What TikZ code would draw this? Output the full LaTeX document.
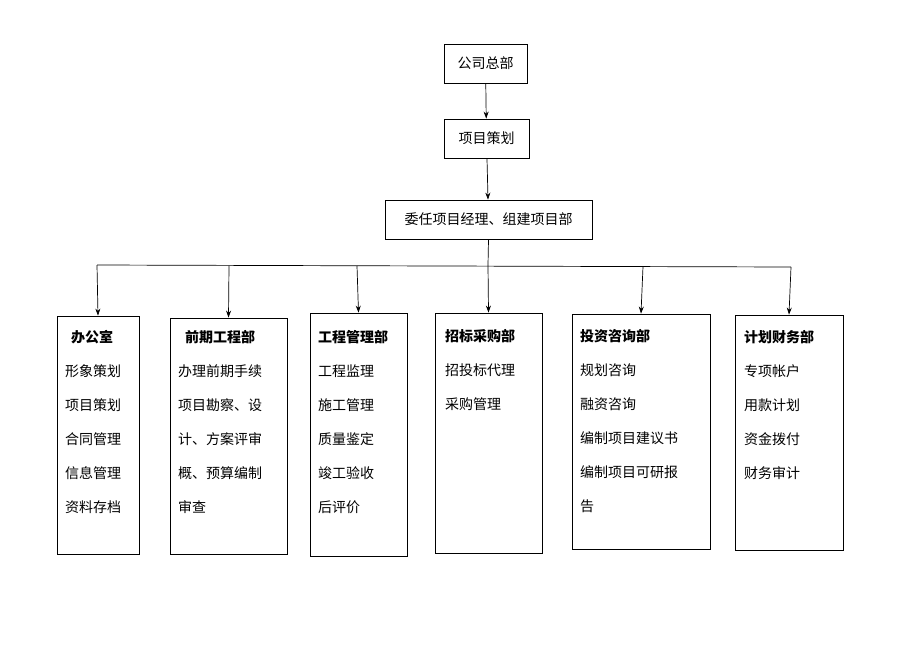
\documentclass[tikz,border=0pt]{standalone}
\usepackage{fontspec}
\newfontfamily\cjk{Noto Sans CJK SC}
\usetikzlibrary{arrows.meta}
\begin{document}
\begin{tikzpicture}[x=1pt,y=-1pt,font=\cjk\fontsize{14}{16}\selectfont,
  box/.style={draw,line width=0.8pt,inner sep=0pt},
  tbox/.style={draw,line width=0.8pt,minimum height=39pt,inner sep=6pt},
  lbl/.style={anchor=west,inner sep=0pt},
  ttl/.style={anchor=west,inner sep=0pt,font=\cjk\bfseries\fontsize{14}{16}\selectfont},
  arr/.style={-{Stealth[length=7pt,width=5pt]},line width=0.7pt}]
\useasboundingbox (0,0) rectangle (920,651);
\node[tbox,minimum width=83pt] (a) at (485.5,63.5) {公司总部};
\node[tbox,minimum width=85pt] (b) at (486.5,138.5) {项目策划};
\node[tbox,minimum width=207pt] (c) at (488.5,219.5) {委任项目经理、组建项目部};
\draw[arr] (a) -- (b);
\draw[arr] (b) -- (c);
\coordinate (j) at (488,265);
\coordinate (l) at (97,265);
\coordinate (r) at (791,267);
\draw[line width=0.7pt] (c.south) -- (j);
\draw[line width=0.7pt] (l) -- (r);
% boxes
\node[box,minimum width=82pt,minimum height=238pt] (d1) at (98,435) {};
\node[box,minimum width=117pt,minimum height=236pt] (d2) at (228.5,436) {};
\node[box,minimum width=97pt,minimum height=243pt] (d3) at (358.5,434.5) {};
\node[box,minimum width=107pt,minimum height=240pt] (d4) at (488.5,433) {};
\node[box,minimum width=138pt,minimum height=235pt] (d5) at (641,431.5) {};
\node[box,minimum width=108pt,minimum height=235pt] (d6) at (789,432.5) {};
\coordinate (t2) at (229,265.5);
\coordinate (t3) at (357,266);
\coordinate (t5) at (643,266.5);
\draw[arr] (l) -- (d1.north);
\draw[arr] (t2) -- (d2.north);
\draw[arr] (t3) -- (d3.north);
\draw[arr] (j) -- (d4.north);
\draw[arr] (t5) -- (d5.north);
\draw[arr] (r) -- (d6.north);
% texts
\node[ttl] (x10) at (71,337) {办公室};
\node[lbl] (x11) at (65,371) {形象策划};
\node[lbl] (x12) at (65,405) {项目策划};
\node[lbl] (x13) at (65,439) {合同管理};
\node[lbl] (x14) at (65,473) {信息管理};
\node[lbl] (x15) at (65,507) {资料存档};
\node[ttl] (x20) at (185,337) {前期工程部};
\node[lbl] (x21) at (178,371) {办理前期手续};
\node[lbl] (x22) at (178,405) {项目勘察、设};
\node[lbl] (x23) at (178,439) {计、方案评审};
\node[lbl] (x24) at (178,473) {概、预算编制};
\node[lbl] (x25) at (178,507) {审查};
\node[ttl] (x30) at (318,337) {工程管理部};
\node[lbl] (x31) at (318,371) {工程监理};
\node[lbl] (x32) at (318,405) {施工管理};
\node[lbl] (x33) at (318,439) {质量鉴定};
\node[lbl] (x34) at (318,473) {竣工验收};
\node[lbl] (x35) at (318,507) {后评价};
\node[ttl] (x40) at (445,336) {招标采购部};
\node[lbl] (x41) at (445,370) {招投标代理};
\node[lbl] (x42) at (445,404) {采购管理};
\node[ttl] (x50) at (580,336) {投资咨询部};
\node[lbl] (x51) at (580,370) {规划咨询};
\node[lbl] (x52) at (580,404) {融资咨询};
\node[lbl] (x53) at (580,438) {编制项目建议书};
\node[lbl] (x54) at (580,472) {编制项目可研报};
\node[lbl] (x55) at (580,506) {告};
\node[ttl] (x60) at (744,337) {计划财务部};
\node[lbl] (x61) at (744,371) {专项帐户};
\node[lbl] (x62) at (744,405) {用款计划};
\node[lbl] (x63) at (744,439) {资金拨付};
\node[lbl] (x64) at (744,473) {财务审计};
\end{tikzpicture}
\end{document}
